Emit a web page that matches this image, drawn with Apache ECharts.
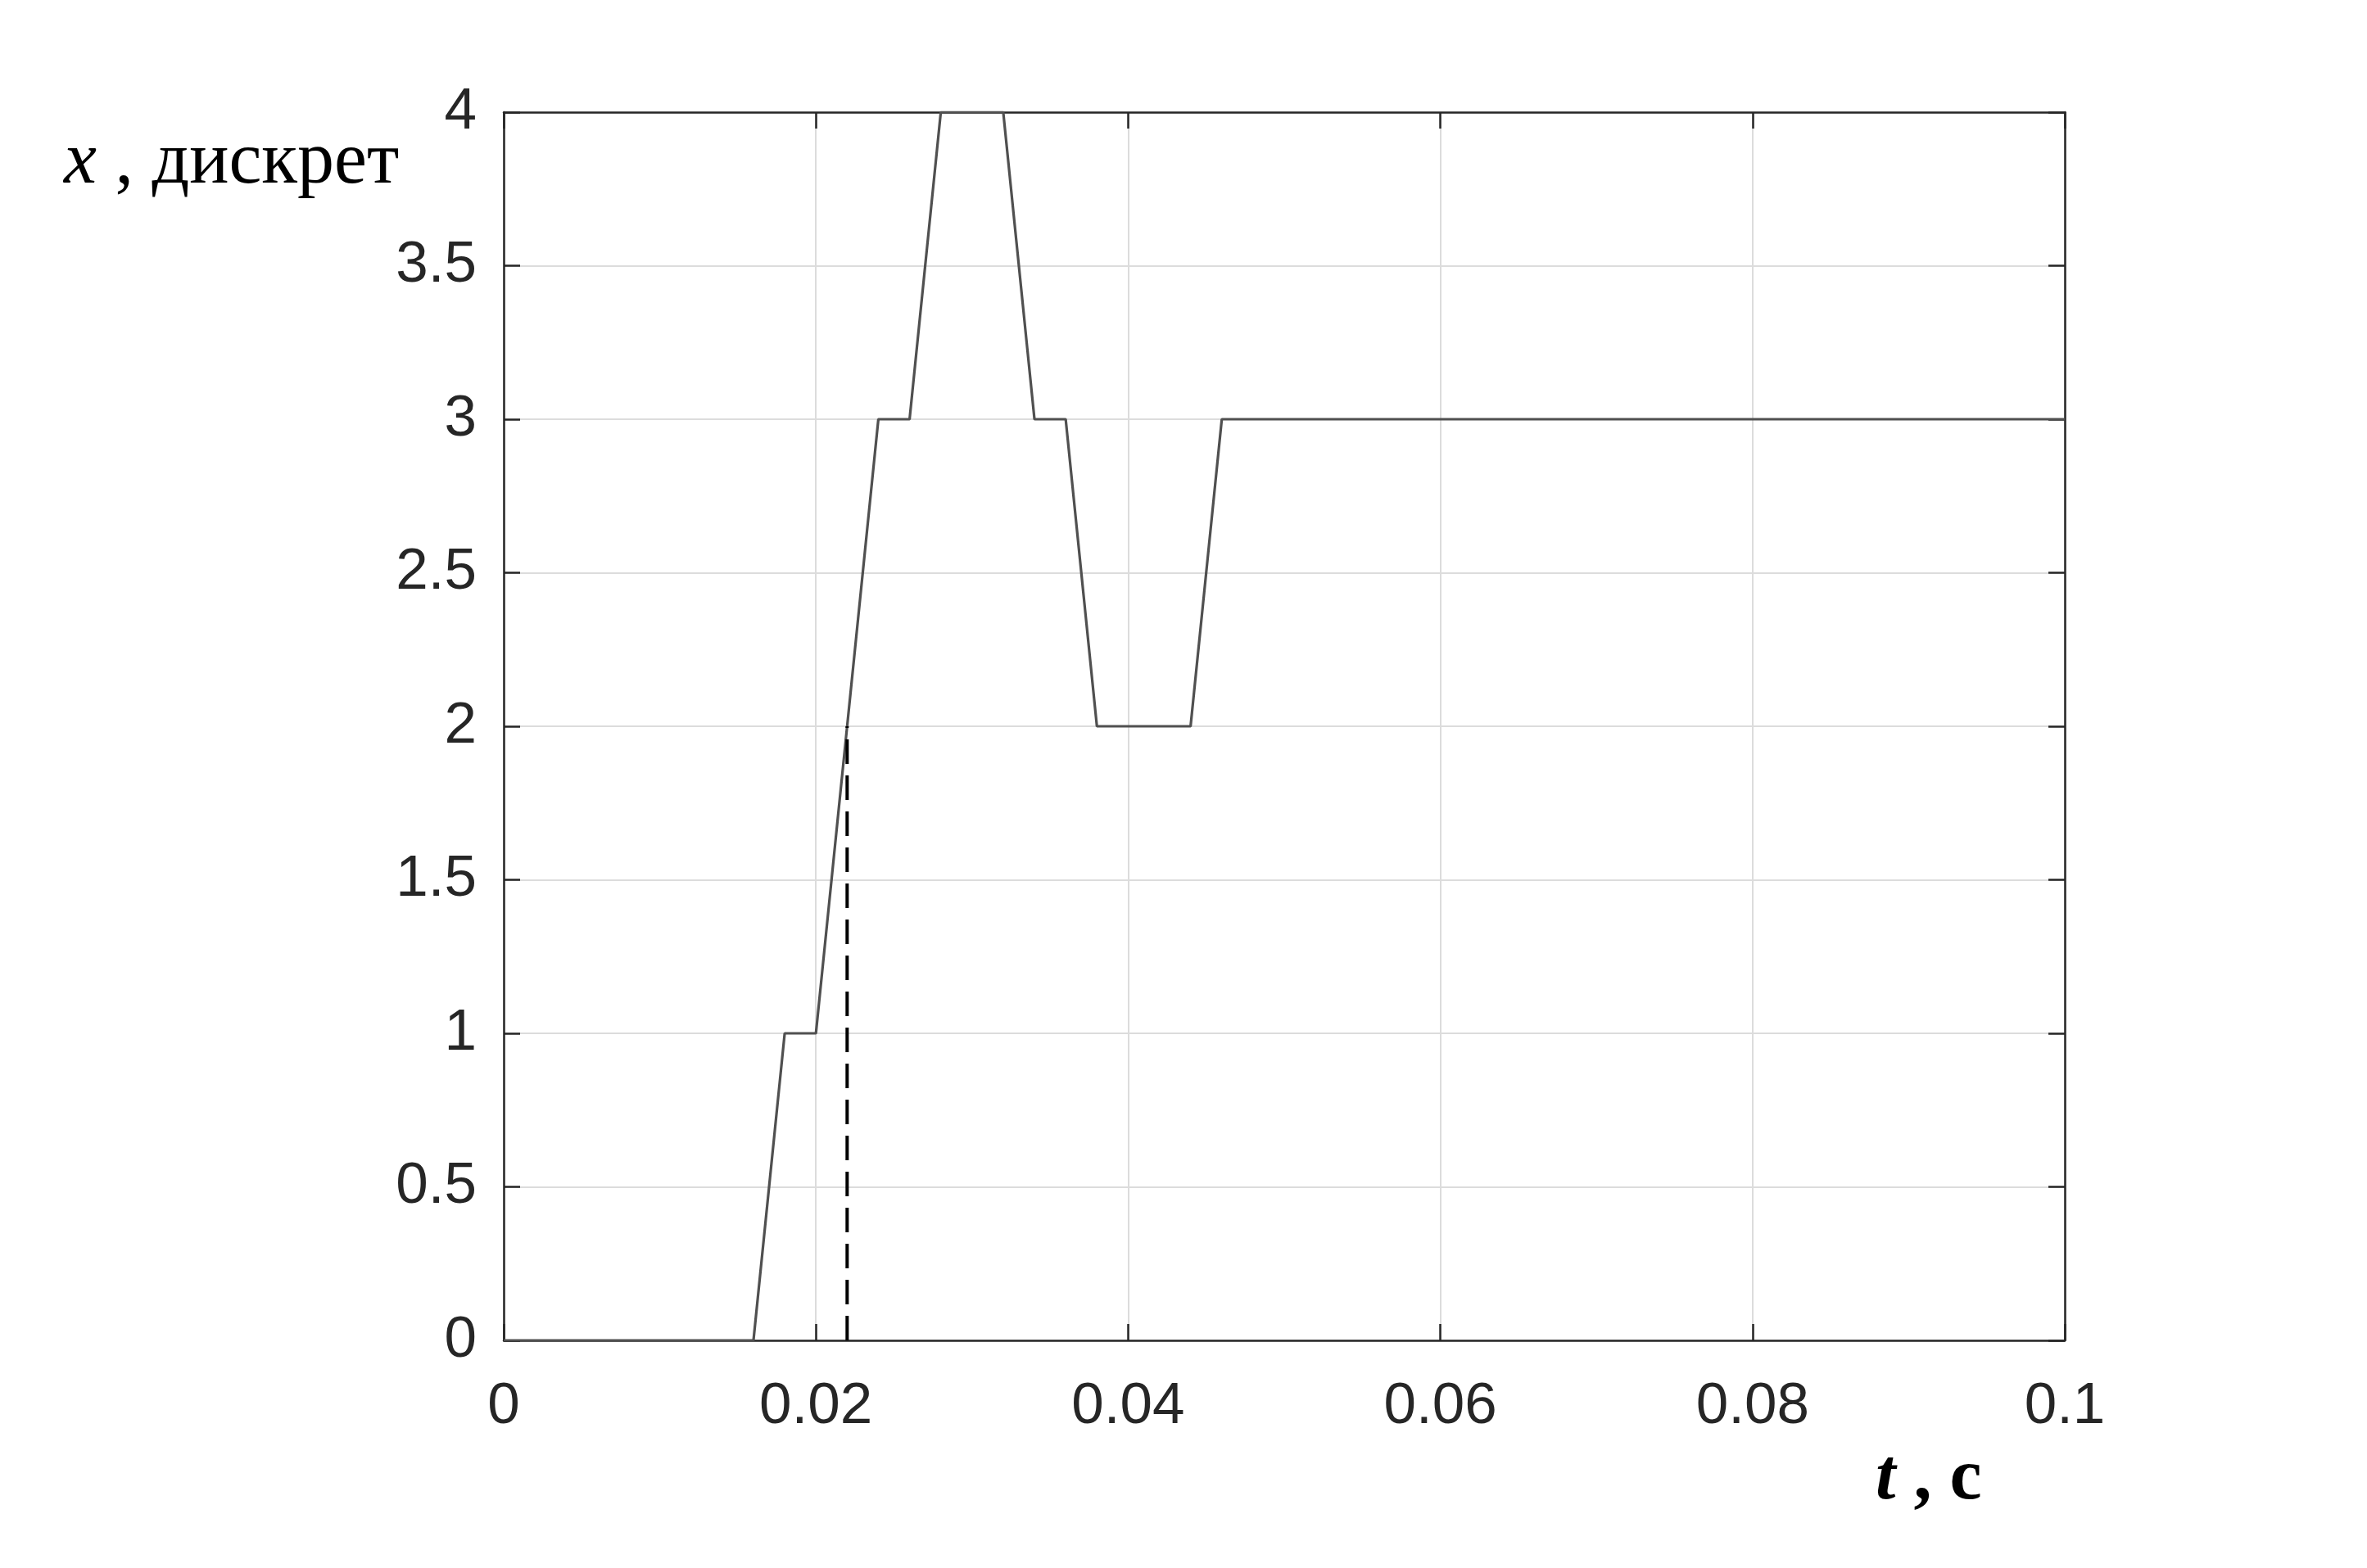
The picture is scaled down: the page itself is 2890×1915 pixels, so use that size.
<!DOCTYPE html>
<html><head><meta charset="utf-8">
<script src="https://cdn.jsdelivr.net/npm/echarts@6/dist/echarts.min.js"></script>
<style>html,body{margin:0;padding:0;background:#fff}#c{width:2890px;height:1915px}</style>
</head><body><div id="c"></div>
<script>
const tValues = [0, 0.016, 0.018, 0.020, 0.022, 0.024, 0.026, 0.028, 0.030, 0.032, 0.034, 0.036, 0.038, 0.040, 0.042, 0.044, 0.046, 0.06, 0.08, 0.1];
const xValues = [0, 0, 1, 1, 2, 3, 3, 4, 4, 4, 3, 3, 2, 2, 2, 2, 3, 3, 3, 3];
const markerT = [0.022, 0.022];
const markerX = [0, 2];
const xTicks = [0, 0.02, 0.04, 0.06, 0.08, 0.1];
const yTicks = [0, 0.5, 1, 1.5, 2, 2.5, 3, 3.5, 4];

const chart = echarts.init(document.getElementById('c'), null, {renderer: 'canvas'});
const axisLineStyle = {color: '#262626', width: 2.5};
const gridLine = {show: true, lineStyle: {color: '#dcdcdc', width: 2}};
const labelFont = {color: '#262626', fontFamily: 'Liberation Sans, Arial, sans-serif', fontSize: 71};
function fmt(v){ return String(Math.round(v*1000)/1000); }
chart.setOption({
  backgroundColor: '#fff',
  animation: false,
  grid: {left: 615, right: 369, top: 137, bottom: 278, containLabel: false},
  xAxis: [
    {type: 'value', min: 0, max: 0.1, interval: 0.02, position: 'bottom',
     axisLine: {show: true, onZero: false, lineStyle: axisLineStyle},
     axisTick: {show: true, inside: true, length: 20, lineStyle: axisLineStyle},
     axisLabel: Object.assign({margin: 46, formatter: fmt}, labelFont),
     splitLine: gridLine},
    {type: 'value', min: 0, max: 0.1, interval: 0.02, position: 'top',
     axisLine: {show: true, onZero: false, lineStyle: axisLineStyle},
     axisTick: {show: true, inside: true, length: 20, lineStyle: axisLineStyle},
     axisLabel: {show: false}, splitLine: {show: false}}
  ],
  yAxis: [
    {type: 'value', min: 0, max: 4, interval: 0.5, position: 'left',
     axisLine: {show: true, onZero: false, lineStyle: axisLineStyle},
     axisTick: {show: true, inside: true, length: 20, lineStyle: axisLineStyle},
     axisLabel: Object.assign({margin: 33, formatter: fmt}, labelFont),
     splitLine: gridLine},
    {type: 'value', min: 0, max: 4, interval: 0.5, position: 'right',
     axisLine: {show: true, onZero: false, lineStyle: axisLineStyle},
     axisTick: {show: true, inside: true, length: 20, lineStyle: axisLineStyle},
     axisLabel: {show: false}, splitLine: {show: false}}
  ],
  series: [
    {type: 'line', xAxisIndex: 0, yAxisIndex: 0, showSymbol: false, symbol: 'none',
     data: tValues.map((t,i)=>[t, xValues[i]]),
     lineStyle: {color: '#505050', width: 3.2}, z: 3},
    {type: 'line', xAxisIndex: 0, yAxisIndex: 0, showSymbol: false, symbol: 'none',
     data: markerT.map((t,i)=>[t, markerX[i]]),
     lineStyle: {color: '#000000', width: 4, type: [30, 14]}, z: 4}
  ],
  graphic: [
    {type: 'text', left: 78, top: 154, style: {
      text: '{i|x} , дискрет',
      rich: {i: {fontStyle: 'italic', fontFamily: 'Liberation Serif, Times New Roman, serif', fontSize: 90, fill: '#000'}},
      fontFamily: 'Liberation Serif, Times New Roman, serif', fontSize: 90, fill: '#000'}},
    {type: 'text', left: 2290, top: 1763, style: {
      text: '{i|t} , с',
      rich: {i: {fontStyle: 'italic', fontWeight: 'bold', fontFamily: 'Liberation Serif, Times New Roman, serif', fontSize: 88, fill: '#000'}},
      fontFamily: 'Liberation Serif, Times New Roman, serif', fontWeight: 'bold', fontSize: 88, fill: '#000'}}
  ]
});
</script></body></html>
